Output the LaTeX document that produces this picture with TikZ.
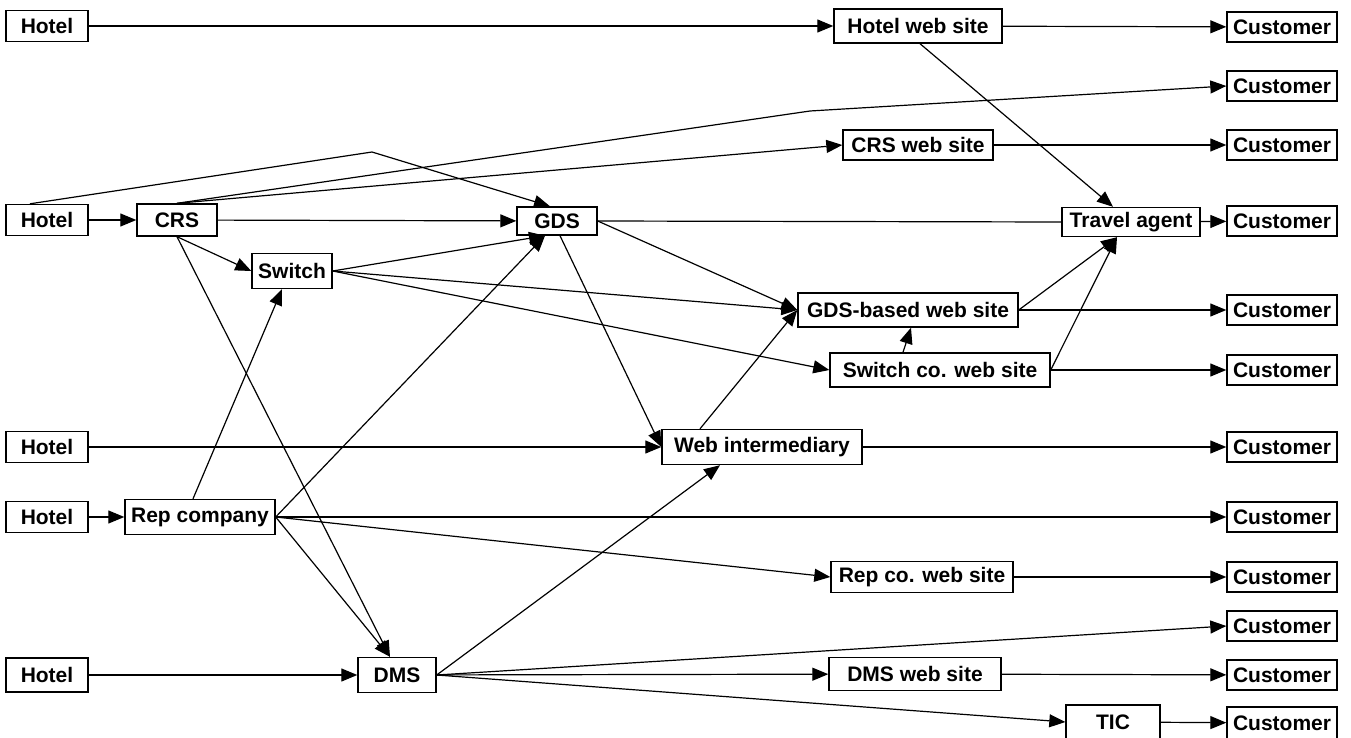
\documentclass[tikz,border=0pt]{standalone}
\usepackage{fontspec}
\setmainfont{Liberation Sans}
\usetikzlibrary{arrows.meta}
\begin{document}
\begin{tikzpicture}[x=1pt,y=-1pt,
  box/.style={draw, line width=1.4pt, inner sep=0pt, font=\fontsize{21}{24}\selectfont\bfseries},
  link/.style={line width=1.2pt, -{Triangle[length=16pt,width=13pt]}},
  plain/.style={line width=1.2pt}]
\useasboundingbox (0,0) rectangle (1351,738);
% nodes
\node[box, minimum width=82, minimum height=31] (h1) at (47,26) {Hotel};
\node[box, minimum width=168, minimum height=34] (hws) at (918,26) {Hotel web site};
\node[box, minimum width=110, minimum height=30] (c1) at (1282,27) {Customer};
\node[box, minimum width=110, minimum height=30] (c2) at (1282,86) {Customer};
\node[box, minimum width=150, minimum height=30] (cws) at (918,145) {CRS web site};
\node[box, minimum width=110, minimum height=30] (c3) at (1282,145) {Customer};
\node[box, minimum width=82, minimum height=31] (h2) at (47,220) {Hotel};
\node[box, minimum width=80, minimum height=32] (crs) at (177,220) {CRS};
\node[box, minimum width=80, minimum height=28] (gds) at (557,221) {GDS};
\node[box, minimum width=138, minimum height=29] (ta) at (1131,222) {Travel agent};
\node[box, minimum width=110, minimum height=30] (c4) at (1282,221) {Customer};
\node[box, minimum width=80, minimum height=35] (sw) at (292,271) {Switch};
\node[box, minimum width=220, minimum height=34] (gdsb) at (908,310) {GDS-based web site};
\node[box, minimum width=110, minimum height=30] (c5) at (1282,310) {Customer};
\node[box, minimum width=220, minimum height=34] (swco) at (940,370) {Switch co. web site};
\node[box, minimum width=110, minimum height=30] (c6) at (1282,370) {Customer};
\node[box, minimum width=82, minimum height=31] (h3) at (47,447) {Hotel};
\node[box, minimum width=200, minimum height=35] (webi) at (762,447) {Web intermediary};
\node[box, minimum width=110, minimum height=30] (c7) at (1282,447) {Customer};
\node[box, minimum width=82, minimum height=31] (h4) at (47,517) {Hotel};
\node[box, minimum width=150, minimum height=35] (rep) at (200,517) {Rep company};
\node[box, minimum width=110, minimum height=30] (c8) at (1282,517) {Customer};
\node[box, minimum width=182, minimum height=31] (rws) at (922,577) {Rep co. web site};
\node[box, minimum width=110, minimum height=30] (c9) at (1282,577) {Customer};
\node[box, minimum width=110, minimum height=30] (c10) at (1282,626) {Customer};
\node[box, minimum width=82, minimum height=34] (h5) at (47,675) {Hotel};
\node[box, minimum width=78, minimum height=35] (dms) at (397,675) {DMS};
\node[box, minimum width=172, minimum height=33] (dmsws) at (915,674) {DMS web site};
\node[box, minimum width=110, minimum height=30] (c11) at (1282,675) {Customer};
\node[box, minimum width=94, minimum height=34] (tic) at (1113,722) {TIC};
\node[box, minimum width=110, minimum height=32] (c12) at (1282,723) {Customer};
\coordinate (peak) at (372,152);
\coordinate (bend) at (810,111);
% connectors
\draw[link] (h1) -- (hws);
\draw[link] (hws) -- (c1);
\draw[link] ([xshift=2pt]hws.south) -- ([xshift=-18pt]ta.north);
\draw[link] ([xshift=-17pt]h2.north) -- (peak) -- ([xshift=-7pt]gds.north);
\draw[link] (crs.north) -- (bend) -- (c2.west);
\draw[link] (crs.north) -- (cws.west);
\draw[link] (cws) -- (c3);
\draw[link] (h2) -- (crs);
\draw[link] (crs) -- (gds);
\draw[link] (crs.south) -- (sw.west);
\draw[link] (crs.south) -- ([xshift=-7pt]dms.north);
\draw[plain] (gds.east) -- (ta.west);
\draw[link] (ta) -- (c4);
\draw[link] (gds.east) -- (gdsb.west);
\draw[link] ([xshift=3pt]gds.south) -- (webi.west);
\draw[link] (sw.east) -- ([xshift=-12pt]gds.south);
\draw[link] (sw.east) -- (gdsb.west);
\draw[link] (sw.east) -- (swco.west);
\draw[link] (gdsb.east) -- ([xshift=-14pt]ta.south);
\draw[link] (swco.east) -- ([xshift=-14pt]ta.south);
\draw[link] (gdsb) -- (c5);
\draw[link] (swco) -- (c6);
\draw[link] ([xshift=-37pt]swco.north) -- ([xshift=3pt]gdsb.south);
\draw[link] (h3) -- (webi);
\draw[link] ([xshift=-62pt]webi.north) -- (gdsb.west);
\draw[link] (webi) -- (c7);
\draw[link] (h4) -- (rep);
\draw[link] ([xshift=-7pt]rep.north) -- ([xshift=-10pt]sw.south);
\draw[link] (rep.east) -- ([xshift=-12pt]gds.south);
\draw[link] (rep) -- (c8);
\draw[link] (rep.east) -- (rws.west);
\draw[link] (rep.east) -- ([xshift=-7pt]dms.north);
\draw[link] (rws) -- (c9);
\draw[link] (h5) -- (dms);
\draw[link] (dms.east) -- ([xshift=-42pt]webi.south);
\draw[link] (dms.east) -- (c10.west);
\draw[link] (dms) -- (dmsws);
\draw[link] (dms.east) -- (tic.west);
\draw[link] (dmsws) -- (c11);
\draw[link] (tic) -- (c12);
\end{tikzpicture}
\end{document}
